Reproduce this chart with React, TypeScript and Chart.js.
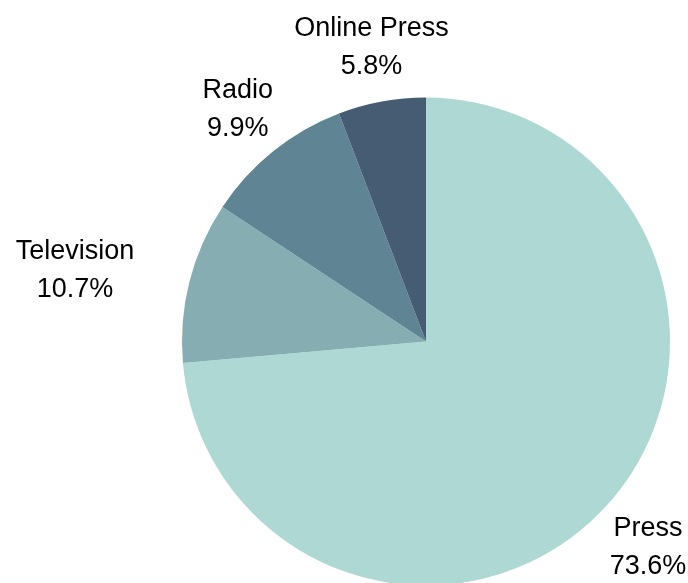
import React, { useEffect, useRef } from "react";
import { Chart, registerables } from "chart.js";

Chart.register(...registerables);

const categories = ["Press", "Television", "Radio", "Online Press"];
const shares = [73.6, 10.7, 9.9, 5.8];
const colors = ["#aed8d3", "#85adb2", "#5f8493", "#455c73"];

const FONT = "27px 'Liberation Sans', Arial, sans-serif";

const outsideLabels = {
  id: "outsideLabels",
  afterDatasetsDraw(chart: any) {
    const ctx = chart.ctx;
    const meta = chart.getDatasetMeta(0);
    const data = chart.data.datasets[0].data as number[];
    const total = data.reduce((a: number, b: number) => a + b, 0);
    ctx.save();
    ctx.font = FONT;
    ctx.fillStyle = "#000000";
    ctx.textBaseline = "middle";
    ctx.textAlign = "center";
    meta.data.forEach((arc: any, i: number) => {
      const { x, y, startAngle, endAngle, outerRadius } = arc.getProps(
        ["x", "y", "startAngle", "endAngle", "outerRadius"],
        true
      );
      const mid = (startAngle + endAngle) / 2;
      const r = outerRadius + 57;
      let px = x + Math.cos(mid) * r;
      const py = y + Math.sin(mid) * r + 2.5;
      const c = Math.cos(mid);
      const name = chart.data.labels[i];
      const pct = ((data[i] / total) * 100).toFixed(1) + "%";
      const w = Math.max(ctx.measureText(name).width, ctx.measureText(pct).width);
      if (Math.abs(c) > 0.85) {
        px += c < 0 ? -w / 2 : w / 2;
      }
      ctx.fillText(name, px, py - 19);
      ctx.fillText(pct, px, py + 19);
    });
    ctx.restore();
  },
};

export default function App() {
  const ref = useRef<HTMLCanvasElement | null>(null);
  useEffect(() => {
    if (!ref.current) return;
    const chart = new Chart(ref.current, {
      type: "pie",
      data: {
        labels: categories,
        datasets: [
          {
            data: shares,
            backgroundColor: colors,
            borderWidth: 0,
            radius: 244,
          } as any,
        ],
      },
      options: {
        animation: false,
        responsive: false,
        layout: { padding: { left: 164, right: 0, top: 100, bottom: 0 } },
        plugins: {
          legend: { display: false },
          tooltip: { enabled: false },
        },
      },
      plugins: [outsideLabels],
    });
    return () => chart.destroy();
  }, []);
  return (
    <div style={{ position: "fixed", left: 0, top: 0, width: 688, height: 583, background: "#ffffff" }}>
      <canvas ref={ref} width={688} height={583} style={{ width: 688, height: 583 }} />
    </div>
  );
}
